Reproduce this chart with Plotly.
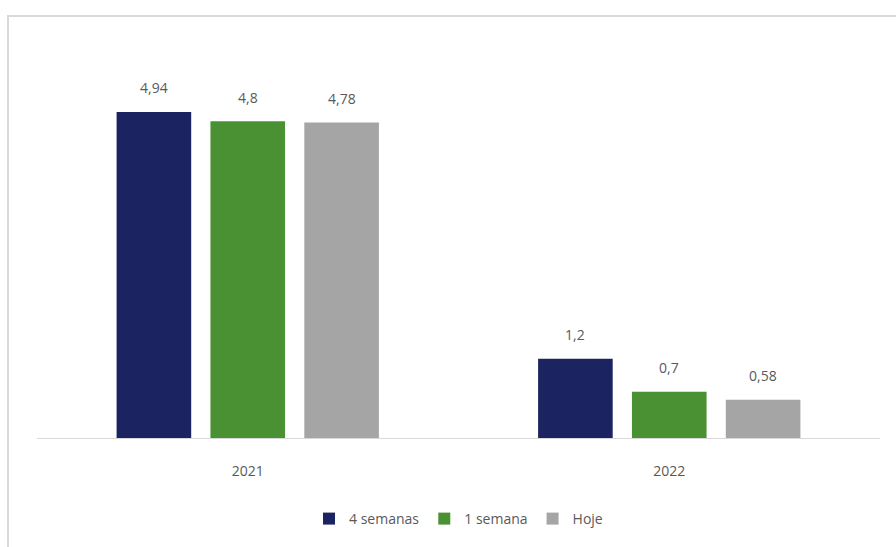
import plotly.graph_objects as go

# Chart data
years = ["2021", "2022"]
series_names = ["4 semanas", "1 semana", "Hoje"]
val_4_semanas = [4.94, 1.2]
val_1_semana = [4.8, 0.7]
val_hoje = [4.78, 0.58]

colors = ["#1b2461", "#4a9133", "#a5a5a5"]
label_color = "#595959"
font_family = "Open Sans, Liberation Sans, sans-serif"

BARGAP = 0.332
BARGROUPGAP = 0.205


def fmt(v):
    return f"{v:g}".replace(".", ",")


all_series = [val_4_semanas, val_1_semana, val_hoje]

fig = go.Figure()
for name, vals, col in zip(series_names, all_series, colors):
    fig.add_trace(go.Bar(
        name=name, x=years, y=vals,
        marker=dict(color=col, line=dict(width=0)),
    ))

# Value labels above each bar
slot = (1 - BARGAP) / len(all_series)
for si, vals in enumerate(all_series):
    offset = (si - (len(all_series) - 1) / 2) * slot
    for ci, v in enumerate(vals):
        fig.add_annotation(
            x=ci + offset, y=v, xref="x", yref="y",
            text=fmt(v), showarrow=False, yshift=24, yanchor="middle",
            font=dict(size=14, color=label_color, family=font_family),
        )

# Light frame around the chart area
fig.add_shape(type="rect", xref="paper", yref="paper",
              x0=-0.0344, x1=1.2, y0=-0.6, y1=1.055,
              line=dict(color="#d9d9d9", width=2), fillcolor="rgba(0,0,0,0)",
              layer="below")

fig.update_layout(
    width=896, height=547,
    margin=dict(l=37, r=16, t=38, b=109),
    paper_bgcolor="white", plot_bgcolor="white",
    barmode="group", bargap=BARGAP, bargroupgap=BARGROUPGAP,
    font=dict(family=font_family, color=label_color, size=14),
    showlegend=True,
    legend=dict(orientation="h", x=0.5, xanchor="center", y=-0.2025, yanchor="middle",
                font=dict(size=14, color=label_color), itemwidth=30,
                tracegroupgap=0),
    xaxis=dict(showline=True, linecolor="#d9d9d9", linewidth=1, ticks="",
               tickfont=dict(size=14, color=label_color), showgrid=False,
               zeroline=False, ticklabelstandoff=20),
    yaxis=dict(range=[0, 6.06], visible=False, showgrid=False, zeroline=False),
)

fig.write_html("out.html")
